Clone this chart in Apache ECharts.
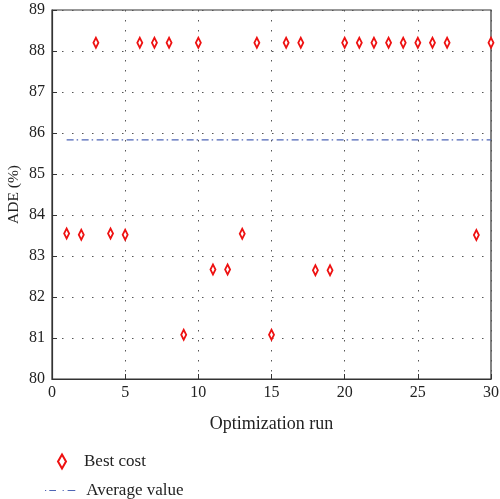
<!DOCTYPE html>
<html>
<head>
<meta charset="utf-8">
<script src="https://cdn.jsdelivr.net/npm/echarts@6/dist/echarts.min.js"></script>
<style>
html,body{margin:0;padding:0;background:#fff;}
#chart{width:500px;height:499px;}
</style>
</head>
<body>
<div id="chart"></div>
<script>
var runs = [1,2,3,4,5,6,7,8,9,10,11,12,13,14,15,16,17,18,19,20,21,22,23,24,25,26,27,29,30];
var bestCost = [83.55,83.52,88.2,83.55,83.52,88.2,88.2,88.2,81.08,88.2,82.67,82.67,83.54,88.2,81.08,88.2,88.2,82.65,82.65,88.2,88.2,88.2,88.2,88.2,88.2,88.2,88.2,83.51,88.2];
var avgX = [1,30];
var avgValue = 85.83;
var xTicks = {min:0,max:30,interval:5};
var yTicks = {min:80,max:89,interval:1};

var font = 'Liberation Serif';
var chart = echarts.init(document.getElementById('chart'));
var gridLine = {show:true,lineStyle:{color:'#555',width:1,type:[1.5,8.5]}};
var legendText = {fontFamily:font,fontSize:17,color:'#222'};
chart.setOption({
  animation:false,
  backgroundColor:'#fff',
  grid:{left:52,right:9,top:10,bottom:120,containLabel:false,outerBoundsMode:'none',show:true,borderColor:'#333',borderWidth:1.2,backgroundColor:'transparent'},
  xAxis:{type:'value',min:xTicks.min,max:xTicks.max,interval:xTicks.interval,
    name:'Optimization run',nameLocation:'middle',nameGap:36,
    nameTextStyle:{fontFamily:font,fontSize:18,color:'#222'},
    axisLine:{show:true,lineStyle:{color:'#333',width:1.2}},
    axisTick:{show:true,inside:true,length:5,lineStyle:{color:'#333'}},
    axisLabel:{fontFamily:font,fontSize:16,color:'#222',margin:6},
    splitLine:gridLine},
  yAxis:{type:'value',min:yTicks.min,max:yTicks.max,interval:yTicks.interval,
    name:'ADE (%)',nameLocation:'middle',nameGap:30,nameMoveOverlap:false,
    nameTextStyle:{fontFamily:font,fontSize:15.5,color:'#222'},
    axisLine:{show:true,lineStyle:{color:'#333',width:1.2}},
    axisTick:{show:true,inside:true,length:5,lineStyle:{color:'#333'}},
    axisLabel:{fontFamily:font,fontSize:16,color:'#222',margin:7},
    splitLine:gridLine},
  legend:[
    {left:57,top:453,padding:0,itemWidth:34,itemHeight:14,textStyle:legendText,
     data:[{name:'Best cost',icon:'path://M0,-7L4,0L0,7L-4,0Z'}]},
    {left:45,top:482,padding:0,itemWidth:42,itemHeight:1.2,textStyle:legendText,
     data:[{name:'Average value',icon:'path://M0,0h1.2v1.2h-1.2z M4.3,0h6.7v1.2h-6.7z M17.6,0h1.2v1.2h-1.2z M22.6,0h7.7v1.2h-7.7z'}]}
  ],
  series:[
    {name:'Best cost',type:'scatter',symbol:'diamond',symbolSize:[5,10],
     itemStyle:{color:'#fff',borderColor:'#ee1111',borderWidth:2,opacity:1},
     data:runs.map(function(r,i){return [r,bestCost[i]];}),z:5},
    {name:'Average value',type:'line',showSymbol:false,symbol:'none',
     lineStyle:{color:'#4f65b5',width:1.2,type:[7,3,1.5,3.5]},
     itemStyle:{color:'#4f65b5'},
     data:avgX.map(function(x){return [x,avgValue];}),z:3}
  ]
});
</script>
</body>
</html>
